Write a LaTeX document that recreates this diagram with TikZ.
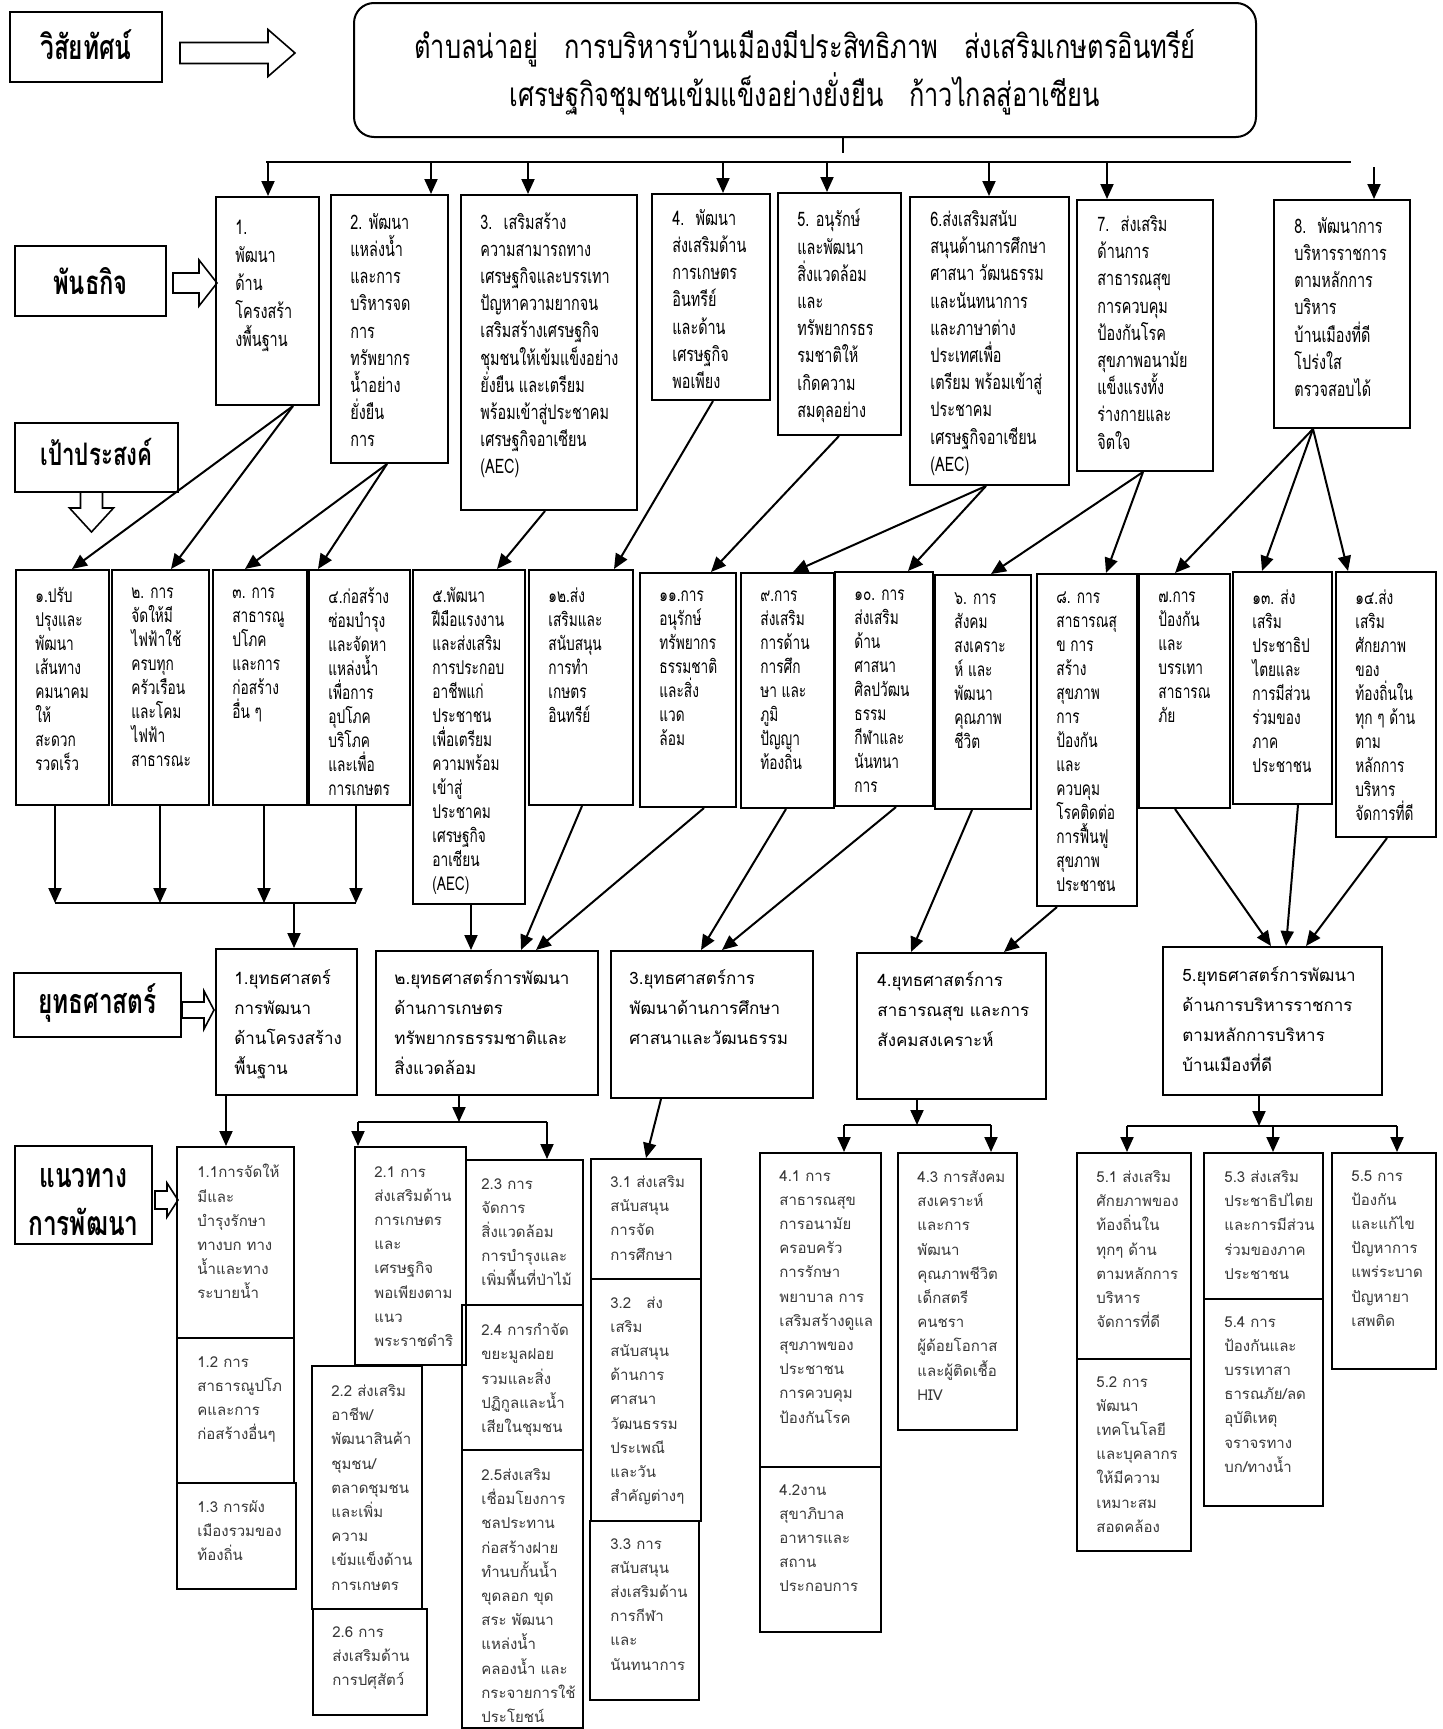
\documentclass[tikz,border=0pt]{standalone}
\usepackage{fontspec}
\usepackage{tikz}
\usetikzlibrary{calc,arrows.meta,positioning,fit}
\newfontfamily\thaifont[Script=Thai]{Loma}
\newfontfamily\thaicond[Script=Thai,FakeStretch=0.72]{Loma}
\newfontfamily\thaivis[Script=Thai,FakeStretch=0.77]{Loma}
\definecolor{plantext}{RGB}{55,55,55}

\begin{document}
\begin{tikzpicture}[x=0.5pt,y=-0.5pt,
    box/.style={draw, line width=1pt, inner sep=0pt},
    labtxt/.style={align=center, inner sep=0pt, text depth=0pt},
    mtxt/.style={anchor=north west, inner sep=0pt, align=left, yshift=11pt,
        execute at begin node={\rule{0pt}{11pt}}, font=\thaicond\fontsize{10}{13.6}\selectfont},
    gtxt/.style={anchor=north west, inner sep=0pt, align=left, yshift=10.5pt,
        execute at begin node={\rule{0pt}{10.5pt}}, font=\thaicond\fontsize{9.5}{12}\selectfont},
    stxt/.style={anchor=north west, inner sep=0pt, align=left, yshift=9.5pt,
        execute at begin node={\rule{0pt}{9.5pt}}, font=\thaifont\fontsize{8.5}{15}\selectfont},
    ptxt/.style={anchor=north west, inner sep=0pt, align=left, yshift=8.5pt, text=plantext,
        execute at begin node={\rule{0pt}{8.5pt}}, font=\thaifont\fontsize{7.5}{12.1}\selectfont},
    line/.style={line width=1pt},
    arr/.style={line, -{Triangle[length=7.5pt,width=6.5pt]}},
    blk/.style={draw, line width=0.8pt, fill=white}]
    \useasboundingbox (0,0) rectangle (1442,1729);

    \node[box, fit={(10,12)(162,82)}] (labvis) {};
    \node[labtxt, text height=8.5pt, font=\thaicond\bfseries\fontsize{17}{21}\selectfont] (labvist) at ($(labvis.center)+(0,4)$) {วิสัยทัศน์};
    \node[box, fit={(15,246)(166,316)}] (labmis) {};
    \node[labtxt, text height=8.25pt, font=\thaicond\bfseries\fontsize{16.5}{21}\selectfont] (labmist) at ($(labmis.center)+(0,5)$) {พันธกิจ};
    \node[box, fit={(15,423)(178,492)}] (labgoal) {};
    \node[labtxt, text height=7.75pt, font=\thaicond\bfseries\fontsize{15.5}{21}\selectfont] (labgoalt) at (labgoal.center) {เป้าประสงค์};
    \node[box, fit={(14,973)(181,1037)}] (labstr) {};
    \node[labtxt, text height=8.5pt, font=\thaicond\bfseries\fontsize{17}{21}\selectfont] (labstrt) at (labstr.center) {ยุทธศาสตร์};
    \node[box, fit={(15,1146)(152,1244)}] (labplan) {};
    \node[labtxt, text height=32.5pt, font=\thaicond\bfseries\fontsize{17}{24}\selectfont] (labplant) at ($(labplan.center)+(0,8)$) {แนวทาง\\การพัฒนา};

    \draw[blk, shift={($(labvis.east)+(17,6)$)}] (0,-10.5) -- (88,-10.5) -- (88,-23.5) -- (115,0) -- (88,23.5) -- (88,10.5) -- (0,10.5) -- cycle;
    \draw[blk, shift={($(labmis.east)+(6,2)$)}] (0,-10) -- (26,-10) -- (26,-23) -- (44,0) -- (26,23) -- (26,10) -- (0,10) -- cycle;
    \draw[blk, shift={($(labgoal.south)+(-5,0)$)}] (-11,0) -- (-11,15) -- (-22,15) -- (0,39) -- (22,15) -- (11,15) -- (11,0);
    \draw[blk, shift={($(labstr.east)+(0,5)$)}] (0,-8) -- (22,-8) -- (22,-19) -- (32,0) -- (22,19) -- (22,8) -- (0,8) -- cycle;
    \draw[blk, shift={($(labplan.east)+(2,5)$)}] (0,-9) -- (12,-9) -- (12,-17) -- (23,0) -- (12,17) -- (12,9) -- (0,9) -- cycle;

    \node[box, rounded corners=10pt, fit={(354,3)(1256,137)}] (vis) {};
    \node[labtxt, text height=32.25pt, font=\thaivis\fontsize{16.5}{24}\selectfont] (vist) at ($(vis.center)+(0,4)$)
        {ตำบลน่าอยู่~~ การบริหารบ้านเมืองมีประสิทธิภาพ~~ ส่งเสริมเกษตรอินทรีย์\\
         เศรษฐกิจชุมชนเข้มแข็งอย่างยั่งยืน~~ ก้าวไกลสู่อาเซียน};

    \node[box, fit={(216,197)(319,405)}] (m1) {};
    \node[mtxt, font=\thaicond\fontsize{10}{14}\selectfont] (m1t) at ($(m1.north west)+(20,46)$) {1.\\พัฒนา\\ด้าน\\โครงสร้า\\งพื้นฐาน};
    \node[box, fit={(331,195)(448,463)}] (m2) {};
    \node[mtxt] (m2t) at ($(m2.north west)+(20,41)$) {2. พัฒนา\\แหล่งน้ำ\\และการ\\บริหารจด\\การ\\ทรัพยากร\\น้ำอย่าง\\ยั่งยืน\\การ};
    \node[box, fit={(461,195)(637,510)}] (m3) {};
    \node[mtxt] (m3t) at ($(m3.north west)+(20,40)$) {3.~ เสริมสร้าง\\ความสามารถทาง\\เศรษฐกิจและบรรเทา\\ปัญหาความยากจน\\เสริมสร้างเศรษฐกิจ\\ชุมชนให้เข้มแข็งอย่าง\\ยั่งยืน และเตรียม\\พร้อมเข้าสู่ประชาคม\\เศรษฐกิจอาเซียน\\(AEC)};
    \node[box, fit={(652,194)(770,400)}] (m4) {};
    \node[mtxt] (m4t) at ($(m4.north west)+(21,38)$) {4.~ พัฒนา\\ส่งเสริมด้าน\\การเกษตร\\อินทรีย์\\และด้าน\\เศรษฐกิจ\\พอเพียง};
    \node[box, fit={(778,193)(901,435)}] (m5) {};
    \node[mtxt] (m5t) at ($(m5.north west)+(20,39)$) {5. อนุรักษ์\\และพัฒนา\\สิ่งแวดล้อม\\และ\\ทรัพยากรธร\\รมชาติให้\\เกิดความ\\สมดุลอย่าง};
    \node[box, fit={(910,197)(1069,485)}] (m6) {};
    \node[mtxt] (m6t) at ($(m6.north west)+(21,36)$) {6.ส่งเสริมสนับ\\สนุนด้านการศึกษา\\ศาสนา วัฒนธรรม\\และนันทนาการ\\และภาษาต่าง\\ประเทศเพื่อ\\เตรียม พร้อมเข้าสู่\\ประชาคม\\เศรษฐกิจอาเซียน\\(AEC)};
    \node[box, fit={(1077,200)(1213,471)}] (m7) {};
    \node[mtxt] (m7t) at ($(m7.north west)+(21,38)$) {7.~ ส่งเสริม\\ด้านการ\\สาธารณสุข\\การควบคุม\\ป้องกันโรค\\สุขภาพอนามัย\\แข็งแรงทั้ง\\ร่างกายและ\\จิตใจ};
    \node[box, fit={(1274,200)(1410,428)}] (m8) {};
    \node[mtxt] (m8t) at ($(m8.north west)+(21,40)$) {8.~ พัฒนาการ\\บริหารราชการ\\ตามหลักการ\\บริหาร\\บ้านเมืองที่ดี\\โปร่งใส\\ตรวจสอบได้};

    \node[box, fit={(16,570)(109,805)}] (g1) {};
    \node[gtxt] (g1t) at ($(g1.north west)+(20,39)$) {๑.ปรับ\\ปรุงและ\\พัฒนา\\เส้นทาง\\คมนาคม\\ให้\\สะดวก\\รวดเร็ว};
    \node[box, fit={(112,570)(209,805)}] (g2) {};
    \node[gtxt] (g2t) at ($(g2.north west)+(20,39)$) {๒. การ\\จัดให้มี\\ไฟฟ้าใช้\\ครบทุก\\ครัวเรือน\\และโคม\\ไฟฟ้า\\สาธารณะ};
    \node[box, fit={(213,570)(307,805)}] (g3) {};
    \node[gtxt] (g3t) at ($(g3.north west)+(20,39)$) {๓. การ\\สาธารณู\\ปโภค\\และการ\\ก่อสร้าง\\อื่น ๆ};
    \node[box, fit={(309,570)(410,805)}] (g4) {};
    \node[gtxt] (g4t) at ($(g4.north west)+(20,39)$) {๔.ก่อสร้าง\\ซ่อมบำรุง\\และจัดหา\\แหล่งน้ำ\\เพื่อการ\\อุปโภค\\บริโภค\\และเพื่อ\\การเกษตร};
    \node[box, fit={(413,570)(525,904)}] (g5) {};
    \node[gtxt] (g5t) at ($(g5.north west)+(20,39)$) {๕.พัฒนา\\ฝีมือแรงงาน\\และส่งเสริม\\การประกอบ\\อาชีพแก่\\ประชาชน\\เพื่อเตรียม\\ความพร้อม\\เข้าสู่\\ประชาคม\\เศรษฐกิจ\\อาเซียน\\(AEC)};
    \node[box, fit={(529,570)(633,805)}] (g6) {};
    \node[gtxt] (g6t) at ($(g6.north west)+(20,39)$) {๑๒.ส่ง\\เสริมและ\\สนับสนุน\\การทำ\\เกษตร\\อินทรีย์};
    \node[box, fit={(640,573)(736,807)}] (g7) {};
    \node[gtxt] (g7t) at ($(g7.north west)+(20,39)$) {๑๑.การ\\อนุรักษ์\\ทรัพยากร\\ธรรมชาติ\\และสิ่ง\\แวด\\ล้อม};
    \node[box, fit={(741,573)(834,808)}] (g8) {};
    \node[gtxt] (g8t) at ($(g8.north west)+(20,39)$) {๙.การ\\ส่งเสริม\\การด้าน\\การศึก\\ษา และ\\ภูมิ\\ปัญญา\\ท้องถิ่น};
    \node[box, fit={(835,572)(933,806)}] (g9) {};
    \node[gtxt] (g9t) at ($(g9.north west)+(20,39)$) {๑๐. การ\\ส่งเสริม\\ด้าน\\ศาสนา\\ศิลปวัฒน\\ธรรม\\กีฬาและ\\นันทนา\\การ};
    \node[box, fit={(935,575)(1031,809)}] (g10) {};
    \node[gtxt] (g10t) at ($(g10.north west)+(20,39)$) {๖. การ\\สังคม\\สงเคราะ\\ห์ และ\\พัฒนา\\คุณภาพ\\ชีวิต};
    \node[box, fit={(1037,574)(1137,906)}] (g11) {};
    \node[gtxt] (g11t) at ($(g11.north west)+(20,39)$) {๘. การ\\สาธารณสุ\\ข การ\\สร้าง\\สุขภาพ\\การ\\ป้องกัน\\และ\\ควบคุม\\โรคติดต่อ\\การฟื้นฟู\\สุขภาพ\\ประชาชน};
    \node[box, fit={(1139,574)(1230,808)}] (g12) {};
    \node[gtxt] (g12t) at ($(g12.north west)+(20,39)$) {๗.การ\\ป้องกัน\\และ\\บรรเทา\\สาธารณ\\ภัย};
    \node[box, fit={(1233,572)(1332,804)}] (g13) {};
    \node[gtxt] (g13t) at ($(g13.north west)+(20,39)$) {๑๓. ส่ง\\เสริม\\ประชาธิป\\ไตยและ\\การมีส่วน\\ร่วมของ\\ภาค\\ประชาชน};
    \node[box, fit={(1336,572)(1436,837)}] (g14) {};
    \node[gtxt] (g14t) at ($(g14.north west)+(20,39)$) {๑๔.ส่ง\\เสริม\\ศักยภาพ\\ของ\\ท้องถิ่นใน\\ทุก ๆ ด้าน\\ตาม\\หลักการ\\บริหาร\\จัดการที่ดี};

    \node[box, fit={(216,949)(357,1095)}] (s1) {};
    \node[stxt] (s1t) at ($(s1.north west)+(19,40)$) {1.ยุทธศาสตร์\\การพัฒนา\\ด้านโครงสร้าง\\พื้นฐาน};
    \node[box, fit={(376,951)(598,1095)}] (s2) {};
    \node[stxt] (s2t) at ($(s2.north west)+(19,38)$) {๒.ยุทธศาสตร์การพัฒนา\\ด้านการเกษตร\\ทรัพยากรธรรมชาติและ\\สิ่งแวดล้อม};
    \node[box, fit={(611,951)(813,1098)}] (s3) {};
    \node[stxt] (s3t) at ($(s3.north west)+(19,38)$) {3.ยุทธศาสตร์การ\\พัฒนาด้านการศึกษา\\ศาสนาและวัฒนธรรม};
    \node[box, fit={(857,953)(1046,1099)}] (s4) {};
    \node[stxt] (s4t) at ($(s4.north west)+(21,38)$) {4.ยุทธศาสตร์การ\\สาธารณสุข และการ\\สังคมสงเคราะห์};
    \node[box, fit={(1163,947)(1382,1095)}] (s5) {};
    \node[stxt] (s5t) at ($(s5.north west)+(20,39)$) {5.ยุทธศาสตร์การพัฒนา\\ด้านการบริหารราชการ\\ตามหลักการบริหาร\\บ้านเมืองที่ดี};

    \node[box, fit={(177,1147)(294,1338)}] (p11) {};
    \node[ptxt] (p11t) at ($(p11.north west)+(21,35)$) {1.1การจัดให้\\มีและ\\บำรุงรักษา\\ทางบก ทาง\\น้ำและทาง\\ระบายน้ำ};
    \node[box, fit={(177,1338)(294,1483)}] (p12) {};
    \node[ptxt] (p12t) at ($(p12.north west)+(21,36)$) {1.2 การ\\สาธารณูปโภ\\คและการ\\ก่อสร้างอื่นๆ};
    \node[box, fit={(177,1483)(296,1589)}] (p13) {};
    \node[ptxt] (p13t) at ($(p13.north west)+(21,35)$) {1.3 การผัง\\เมืองรวมของ\\ท้องถิ่น};
    \node[box, fit={(355,1147)(466,1365)}] (p21) {};
    \node[ptxt] (p21t) at ($(p21.north west)+(20,37)$) {2.1 การ\\ส่งเสริมด้าน\\การเกษตร\\และ\\เศรษฐกิจ\\พอเพียงตาม\\แนว\\พระราชดำริ};
    \node[box, fit={(312,1366)(422,1609)}] (p22) {};
    \node[ptxt] (p22t) at ($(p22.north west)+(20,36)$) {2.2 ส่งเสริม\\อาชีพ/\\พัฒนาสินค้า\\ชุมชน/\\ตลาดชุมชน\\และเพิ่ม\\ความ\\เข้มแข็งด้าน\\การเกษตร};
    \node[box, fit={(313,1609)(427,1715)}] (p26) {};
    \node[ptxt] (p26t) at ($(p26.north west)+(20,35)$) {2.6 การ\\ส่งเสริมด้าน\\การปศุสัตว์};
    \node[box, fit={(466,1160)(583,1305)}] (p23) {};
    \node[ptxt] (p23t) at ($(p23.north west)+(16,36)$) {2.3 การ\\จัดการ\\สิ่งแวดล้อม\\การบำรุงและ\\เพิ่มพื้นที่ป่าไม้};
    \node[box, fit={(462,1305)(583,1450)}] (p24) {};
    \node[ptxt] (p24t) at ($(p24.north west)+(20,36)$) {2.4 การกำจัด\\ขยะมูลฝอย\\รวมและสิ่ง\\ปฏิกูลและน้ำ\\เสียในชุมชน};
    \node[box, fit={(462,1450)(583,1728)}] (p25) {};
    \node[ptxt] (p25t) at ($(p25.north west)+(20,36)$) {2.5ส่งเสริม\\เชื่อมโยงการ\\ชลประทาน\\ก่อสร้างฝาย\\ทำนบกั้นน้ำ\\ขุดลอก ขุด\\สระ พัฒนา\\แหล่งน้ำ\\คลองน้ำ และ\\กระจายการใช้\\ประโยชน์};
    \node[box, fit={(591,1159)(701,1279)}] (p31) {};
    \node[ptxt] (p31t) at ($(p31.north west)+(20,34)$) {3.1 ส่งเสริม\\สนับสนุน\\การจัด\\การศึกษา};
    \node[box, fit={(591,1279)(701,1521)}] (p32) {};
    \node[ptxt] (p32t) at ($(p32.north west)+(20,35)$) {3.2~~~ส่ง\\เสริม\\สนับสนุน\\ด้านการ\\ศาสนา\\วัฒนธรรม\\ประเพณี\\และวัน\\สำคัญต่างๆ};
    \node[box, fit={(590,1521)(699,1700)}] (p33) {};
    \node[ptxt] (p33t) at ($(p33.north west)+(21,35)$) {3.3 การ\\สนับสนุน\\ส่งเสริมด้าน\\การกีฬา\\และ\\นันทนาการ};
    \node[box, fit={(760,1153)(881,1467)}] (p41) {};
    \node[ptxt] (p41t) at ($(p41.north west)+(20,35)$) {4.1 การ\\สาธารณสุข\\การอนามัย\\ครอบครัว\\การรักษา\\พยาบาล การ\\เสริมสร้างดูแล\\สุขภาพของ\\ประชาชน\\การควบคุม\\ป้องกันโรค};
    \node[box, fit={(760,1467)(881,1632)}] (p42) {};
    \node[ptxt] (p42t) at ($(p42.north west)+(20,35)$) {4.2งาน\\สุขาภิบาล\\อาหารและ\\สถาน\\ประกอบการ};
    \node[box, fit={(898,1153)(1017,1430)}] (p43) {};
    \node[ptxt] (p43t) at ($(p43.north west)+(20,35)$) {4.3 การสังคม\\สงเคราะห์\\และการ\\พัฒนา\\คุณภาพชีวิต\\เด็กสตรี\\คนชรา\\ผู้ด้อยโอกาส\\และผู้ติดเชื้อ\\HIV};
    \node[box, fit={(1077,1153)(1191,1359)}] (p51) {};
    \node[ptxt] (p51t) at ($(p51.north west)+(20,35)$) {5.1 ส่งเสริม\\ศักยภาพของ\\ท้องถิ่นใน\\ทุกๆ ด้าน\\ตามหลักการ\\บริหาร\\จัดการที่ดี};
    \node[box, fit={(1077,1359)(1191,1551)}] (p52) {};
    \node[ptxt] (p52t) at ($(p52.north west)+(20,35)$) {5.2 การ\\พัฒนา\\เทคโนโลยี\\และบุคลากร\\ให้มีความ\\เหมาะสม\\สอดคล้อง};
    \node[box, fit={(1204,1153)(1323,1299)}] (p53) {};
    \node[ptxt] (p53t) at ($(p53.north west)+(21,35)$) {5.3 ส่งเสริม\\ประชาธิปไตย\\และการมีส่วน\\ร่วมของภาค\\ประชาชน};
    \node[box, fit={(1204,1299)(1323,1506)}] (p54) {};
    \node[ptxt] (p54t) at ($(p54.north west)+(21,35)$) {5.4 การ\\ป้องกันและ\\บรรเทาสา\\ธารณภัย/ลด\\อุบัติเหตุ\\จราจรทาง\\บก/ทางน้ำ};
    \node[box, fit={(1332,1153)(1436,1369)}] (p55) {};
    \node[ptxt] (p55t) at ($(p55.north west)+(20,35)$) {5.5 การ\\ป้องกัน\\และแก้ไข\\ปัญหาการ\\แพร่ระบาด\\ปัญหายา\\เสพติด};

    \path ($(vis.south west)+(490,0)$) coordinate (vstub) ($(vis.south west)+(490,15)$) coordinate (vstubend)
          ($(m1.north west)+(51,-34)$) coordinate (busL) ($(m8.north west)+(78,-37)$) coordinate (busR);
    \draw[line] (vstub) -- (vstubend);
    \draw[line] (busL) -- (busR);
    \foreach \n/\dx in {m1/53,m2/101,m3/68,m4/72,m5/50,m6/80,m7/31}{
        \coordinate (tip) at ($(\n.north west)+(\dx,0)$);
        \draw[arr] (tip |- busL) -- (tip);
    }
    \draw[arr] ($(m8.north west)+(101,-32)$) -- ($(m8.north west)+(101,0)$);

    \foreach \a/\da/\b/\db in {m1/78/g1/57, m1/78/g2/60, m2/57/g3/33, m2/57/g4/10, m3/85/g5/85,
            m4/62/g6/86, m5/62/g7/72, m6/77/g8/53, m6/77/g9/74, m7/67/g10/57, m7/67/g11/70,
            m8/40/g12/37, m8/40/g13/30, m8/40/g14/13}
        \draw[arr] ($(\a.south west)+(\da,0)$) -- ($(\b.north west)+(\db,0)$);

    \path ($(g1.south west)+(40,0)$) coordinate (d1) ($(g2.south west)+(49,0)$) coordinate (d2)
          ($(g3.south west)+(52,0)$) coordinate (d3) ($(g4.south west)+(48,0)$) coordinate (d4)
          ($(s1.north west)+(79,-45)$) coordinate (b1);
    \foreach \i in {1,...,4}
        \draw[arr] (d\i) -- (d\i |- b1);
    \draw[line] (d1 |- b1) -- (d4 |- b1);
    \draw[arr] (b1) -- (b1 |- s1.north);

    \foreach \a/\da/\b/\db in {g5/59/s2/96, g6/54/s2/146, g7/65/s2/161, g8/46/s3/91, g9/62/s3/112,
            g10/38/s4/55, g11/21/s4/148, g12/37/s5/109, g13/66/s5/124, g14/52/s5/144}
        \draw[arr] ($(\a.south west)+(\da,0)$) -- ($(\b.north west)+(\db,0)$);

    \draw[arr] ($(s1.south west)+(11,0)$) -- ($(p11.north west)+(50,0)$);
    \draw[arr] ($(s3.south west)+(51,0)$) -- ($(p31.north west)+(56,0)$);

    \path ($(s2.south west)+(84,26)$) coordinate (b2) ($(p21.north west)+(4,0)$) coordinate (e21)
          ($(p23.north west)+(82,0)$) coordinate (e23);
    \draw[arr] (b2 |- s2.south) -- (b2);
    \draw[line] (e21 |- b2) -- (e23 |- b2);
    \draw[arr] (e21 |- b2) -- (e21);
    \draw[arr] (e23 |- b2) -- (e23);

    \path ($(s4.south west)+(61,25)$) coordinate (b4) ($(p41.north west)+(85,0)$) coordinate (e41)
          ($(p43.north west)+(94,0)$) coordinate (e43);
    \draw[arr] (b4 |- s4.south) -- (b4);
    \draw[line] (e41 |- b4) -- (e43 |- b4);
    \draw[arr] (e41 |- b4) -- (e41);
    \draw[arr] (e43 |- b4) -- (e43);

    \path ($(s5.south west)+(97,30)$) coordinate (b5) ($(p51.north west)+(51,0)$) coordinate (e51)
          ($(p53.north west)+(70,0)$) coordinate (e53) ($(p55.north west)+(66,0)$) coordinate (e55);
    \draw[arr] (b5 |- s5.south) -- (b5);
    \draw[line] (e51 |- b5) -- (e55 |- b5);
    \foreach \e in {e51,e53,e55}
        \draw[arr] (\e |- b5) -- (\e);
\end{tikzpicture}
\end{document}
